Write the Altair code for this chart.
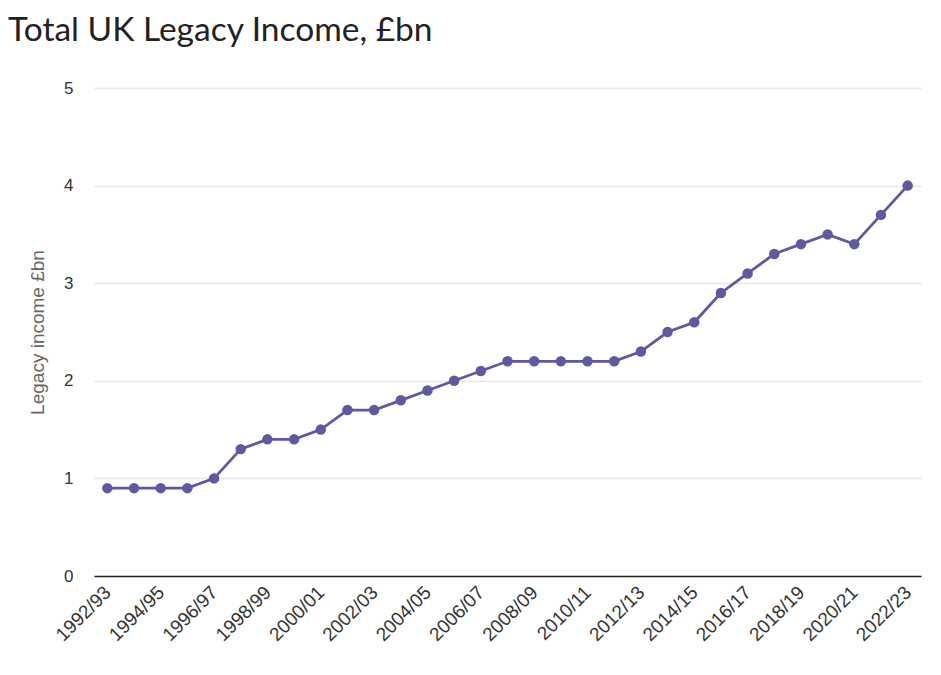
import altair as alt
import pandas as pd

years = ["1992/93","1993/94","1994/95","1995/96","1996/97","1997/98","1998/99","1999/00",
         "2000/01","2001/02","2002/03","2003/04","2004/05","2005/06","2006/07","2007/08",
         "2008/09","2009/10","2010/11","2011/12","2012/13","2013/14","2014/15","2015/16",
         "2016/17","2017/18","2018/19","2019/20","2020/21","2021/22","2022/23"]
income = [0.9,0.9,0.9,0.9,1.0,1.3,1.4,1.4,1.5,1.7,1.7,1.8,1.9,2.0,2.1,2.2,
          2.2,2.2,2.2,2.2,2.3,2.5,2.6,2.9,3.1,3.3,3.4,3.5,3.4,3.7,4.0]
label_years = years[::2]

df = pd.DataFrame({"year": years, "income": income})
color = "#5f5a9f"

x = alt.X("year:N", sort=years, title=None,
          scale=alt.Scale(type="point", padding=0.5),
          axis=alt.Axis(values=label_years, labelAngle=-45, labelAlign="right",
                        labelBaseline="middle", labelFontSize=19, labelColor="#333",
                        labelFont="Liberation Sans", ticks=False, domain=True,
                        domainColor="#222", domainWidth=1.5, grid=False, labelPadding=13))
y = alt.Y("income:Q", title="Legacy income £bn",
          scale=alt.Scale(domain=[0, 5], nice=False),
          axis=alt.Axis(values=[0,1,2,3,4,5], labelFontSize=17, labelColor="#333",
                        labelFont="Liberation Sans", ticks=False, domain=False,
                        gridColor="#e6e6e6", gridWidth=1.5, labelPadding=21,
                        titleFontSize=19, titleFontWeight="normal", titleColor="#666",
                        titleFont="Liberation Sans", titlePadding=16))

base = alt.Chart(df).encode(x=x, y=y)
line = base.mark_line(color=color, strokeWidth=2.8)
pts = base.mark_circle(color=color, size=110, opacity=1)

chart = (line + pts).properties(
    width=827, height=488,
    title=alt.TitleParams("Total UK Legacy Income, £bn", anchor="start", fontSize=33.5,
                          font="Lato", fontWeight="normal", color="#222", offset=31,
                          frame="group", dx=-86),
    autosize=alt.AutoSizeParams(type="none"),
    padding={"left": 86, "top": 80, "right": 12, "bottom": 91},
).configure_view(stroke=None)

chart.save("out.html", embed_options={"renderer": "svg", "actions": False})
